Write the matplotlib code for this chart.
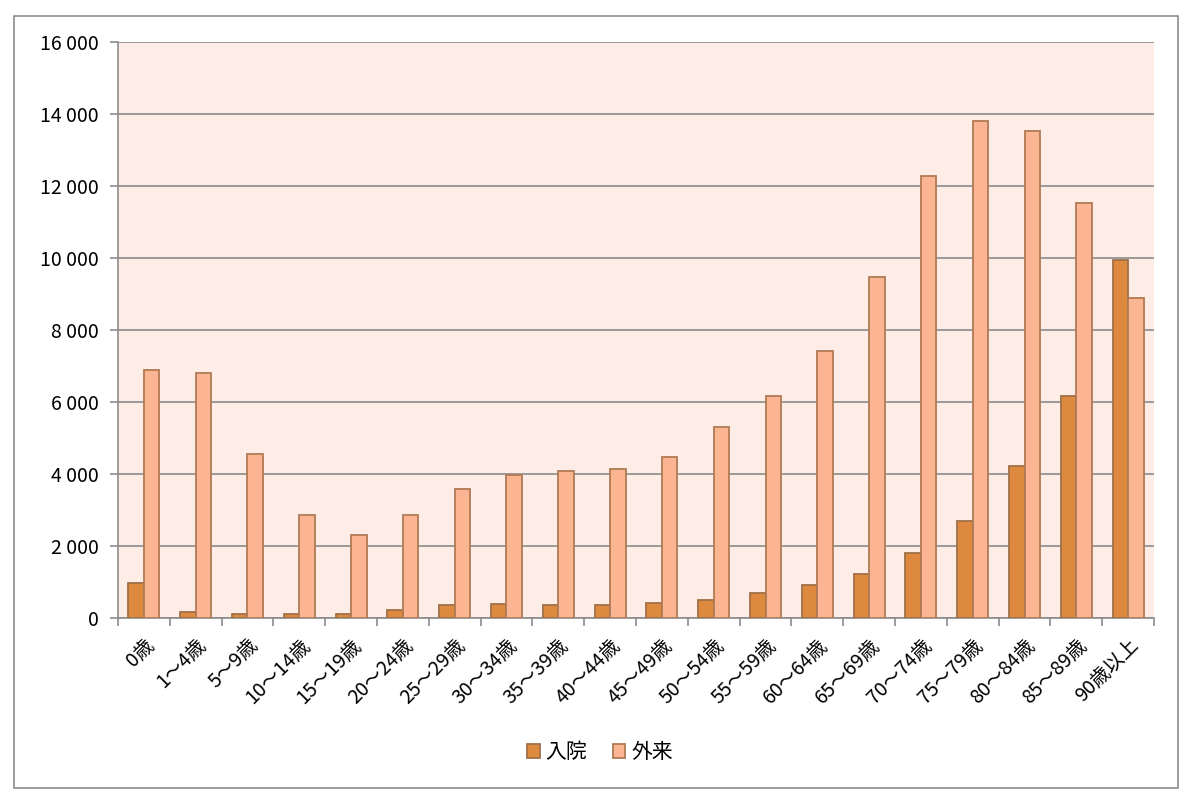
import numpy as np
import matplotlib.pyplot as plt
from matplotlib.patches import Rectangle
from matplotlib.ticker import FuncFormatter

plt.rcParams['font.family'] = ['Noto Sans CJK JP', 'DejaVu Sans']

# age groups
labels = ['0歳', '1〜4歳', '5〜9歳', '10〜14歳', '15〜19歳', '20〜24歳', '25〜29歳',
          '30〜34歳', '35〜39歳', '40〜44歳', '45〜49歳', '50〜54歳', '55〜59歳',
          '60〜64歳', '65〜69歳', '70〜74歳', '75〜79歳', '80〜84歳', '85〜89歳', '90歳以上']
nyuin = [970, 170, 110, 110, 110, 220, 360, 400, 360, 360, 410, 500, 690, 920,
         1220, 1800, 2700, 4220, 6170, 9940]
gairai = [6890, 6800, 4550, 2860, 2300, 2860, 3580, 3970, 4080, 4140, 4470, 5310,
          6170, 7420, 9470, 12280, 13800, 13530, 11530, 8890]

fig = plt.figure(figsize=(12, 8.08), dpi=100)
ax = fig.add_axes([0.0983, 0.2351, 0.8634, 0.7129])
ax.set_facecolor('#FDEDE6')

x = np.arange(len(labels))
w = 0.3
ax.bar(x - w / 2, nyuin, w, color='#DE8A3E', edgecolor='#A07048', linewidth=1.3,
       label='入院', zorder=3)
ax.bar(x + w / 2, gairai, w, color='#FBB592', edgecolor='#B07A55', linewidth=1.3,
       label='外来', zorder=3)

ax.set_xlim(-0.5, len(labels) - 0.5)
ax.set_ylim(0, 16000)
ax.set_yticks(np.arange(0, 16001, 2000))
ax.yaxis.set_major_formatter(FuncFormatter(lambda v, p: f'{int(v):,}'.replace(',', ' ')))
ax.grid(axis='y', color='#8C8C8C', linewidth=1.2, zorder=1)

ax.set_xticks(x)
ax.set_xticklabels(labels, rotation=45, ha='right', rotation_mode='anchor', fontsize=14)
ax.set_xticks(np.arange(-0.5, len(labels)), minor=True)
ax.tick_params(axis='x', which='major', length=0, pad=12)
ax.tick_params(axis='x', which='minor', length=6, color='#8C8C8C', width=1.2)
ax.tick_params(axis='y', length=6, color='#8C8C8C', width=1.2, labelsize=14, pad=8)

for s in ['top', 'right']:
    ax.spines[s].set_visible(False)
for s in ['left', 'bottom']:
    ax.spines[s].set_color('#8C8C8C')
    ax.spines[s].set_linewidth(1.2)

ax.legend(loc='center', bbox_to_anchor=(0.5, 0.069), bbox_transform=fig.transFigure,
          ncol=2, frameon=False, fontsize=15, handlelength=0.6, handleheight=0.6,
          handletextpad=0.3, columnspacing=1.2)

fig.patches.append(Rectangle((14 / 1200, 20 / 808), 1164 / 1200, 772 / 808,
                             transform=fig.transFigure, fill=False,
                             edgecolor='#8C8C8C', linewidth=1.2))

fig.savefig('out.png', dpi=100)
